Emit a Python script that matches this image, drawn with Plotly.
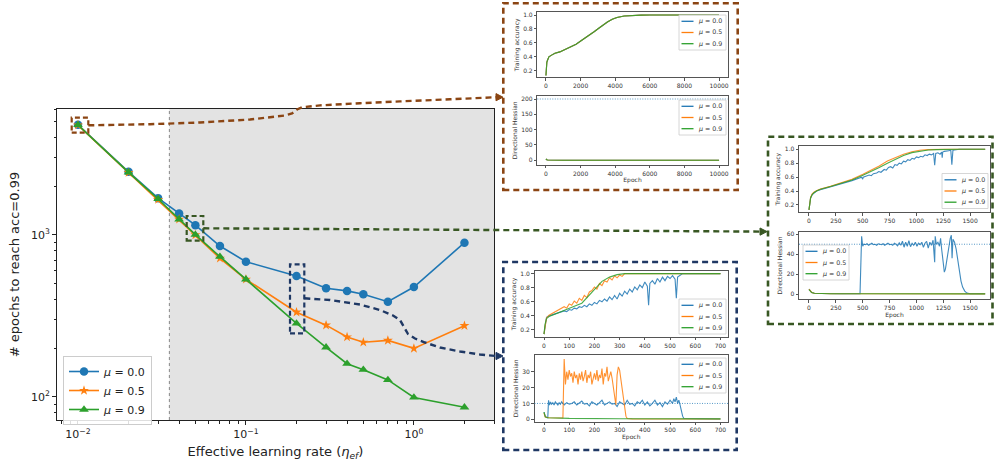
import plotly.graph_objects as go

W, H = 994, 465

# ---------------- main panel data ----------------
lr = [0.01, 0.02, 0.03, 0.04, 0.05, 0.07, 0.1, 0.2, 0.3, 0.4, 0.5, 0.7, 1.0, 2.0]
epochs_mu00 = [4800, 2460, 1690, 1360, 1150, 855, 684, 557, 468, 451, 430, 387, 477, 896]
epochs_mu05 = [4780, 2430, 1655, 1250, 1000, 717, 532, 333, 277, 234, 217, 223, 199, 275]
epochs_mu09 = [4790, 2440, 1670, 1250, 1005, 734, 532, 284, 202, 160, 147, 127, 99, 86]
stable_lr = 0.035
mu_labels = ["<i>μ</i> = 0.0", "<i>μ</i> = 0.5", "<i>μ</i> = 0.9"]
x_tickvals = [0.01, 0.1, 1.0]
x_ticktext = ["10<sup>−2</sup>", "10<sup>−1</sup>", "10<sup>0</sup>"]
y_tickvals = [100, 1000]
y_ticktext = ["10<sup>2</sup>", "10<sup>3</sup>"]

# ---------------- inset A (eta = 0.01) ----------------
a_ep = [0, 20, 50, 90, 170, 300, 520, 800, 1040, 1400, 1740, 2090, 2400, 2780, 3050, 3300,
        3550, 3830, 4100, 4520, 5000, 5500, 6000, 8000, 10000]
a_acc = [0.13, 0.26, 0.32, 0.35, 0.40, 0.42, 0.45, 0.47, 0.50, 0.54, 0.58, 0.64, 0.69, 0.76, 0.81, 0.86,
         0.90, 0.94, 0.965, 0.985, 0.995, 0.998, 1.0, 1.0, 1.0]
a_hess_ep = [0, 20, 50, 100, 200, 500, 1000, 3000, 6000, 10000]
a_hess = [5.0, 3.0, 1.6, 1.0, 0.7, 0.5, 0.4, 0.3, 0.2, 0.2]
a_thr = 200

# ---------------- inset B (eta = 0.05) ----------------
b_ep_s = [0, 5, 15, 30, 46, 70, 106, 200, 289, 400, 502, 580, 654, 730, 806, 880, 958, 1030, 1110,
          1190, 1262, 1400, 1640]
b_acc_mu09 = [0.13, 0.22, 0.30, 0.35, 0.377, 0.40, 0.425, 0.465, 0.507, 0.56, 0.627, 0.68, 0.737, 0.80,
              0.856, 0.91, 0.952, 0.975, 0.99, 0.995, 1.0, 1.0, 1.0]
b_acc_mu05 = [0.13, 0.23, 0.31, 0.36, 0.385, 0.405, 0.43, 0.47, 0.515, 0.57, 0.64, 0.70, 0.76, 0.83,
              0.885, 0.93, 0.965, 0.985, 0.995, 1.0, 1.0, 1.0, 1.0]
b_ep_mu00 = [0, 5, 15, 30, 46, 70, 106, 200, 289, 400, 490, 500, 505, 530, 560, 580, 600, 630, 650, 670,
             700, 720, 740, 760, 780, 800, 820, 840, 860, 880, 900, 920, 940, 960, 980, 1000, 1020, 1040,
             1060, 1080, 1100, 1120, 1140, 1160, 1170, 1180, 1200, 1220, 1235, 1240, 1245, 1260, 1280,
             1300, 1320, 1330, 1340, 1360, 1400, 1640]
b_acc_mu00 = [0.13, 0.22, 0.30, 0.35, 0.375, 0.40, 0.42, 0.46, 0.50, 0.55, 0.60, 0.57, 0.60, 0.61, 0.63,
              0.62, 0.65, 0.66, 0.68, 0.67, 0.71, 0.70, 0.74, 0.75, 0.73, 0.78, 0.77, 0.80, 0.79, 0.83,
              0.82, 0.85, 0.84, 0.87, 0.86, 0.89, 0.88, 0.90, 0.89, 0.92, 0.91, 0.93, 0.92, 0.94, 0.77,
              0.94, 0.95, 0.93, 0.96, 0.88, 0.96, 0.97, 0.98, 0.98, 0.985, 0.78, 0.985, 0.99, 1.0, 1.0]
b_hess_ep_s = [0, 10, 25, 50, 100, 200, 500, 1000, 1640]
b_hess_mu05 = [5.0, 3.2, 1.6, 0.8, 0.5, 0.3, 0.2, 0.1, 0.1]
b_hess_mu09 = [4.5, 3.0, 1.5, 0.8, 0.5, 0.3, 0.2, 0.1, 0.1]
b_hess_ep_mu00 = [0, 10, 25, 50, 100, 300, 475, 490, 500, 510, 525, 540, 555, 570, 585, 600, 615, 630,
                  645, 660, 675, 690, 705, 720, 735, 750, 765, 780, 795, 810, 825, 840, 855, 870, 885,
                  900, 915, 930, 945, 960, 975, 990, 1005, 1020, 1035, 1050, 1065, 1080, 1095, 1110,
                  1125, 1140, 1155, 1170, 1175, 1185, 1200, 1215, 1225, 1235, 1250, 1260, 1270, 1285,
                  1300, 1315, 1325, 1332, 1340, 1355, 1370, 1385, 1400, 1415, 1430, 1450, 1470, 1500, 1640]
b_hess_mu00 = [5, 3, 1.5, 0.8, 0.5, 0.3, 0.3, 58, 48, 50, 49.5, 50.5, 49, 50, 51, 49.5, 50, 49, 50.5,
               50, 49.5, 50.5, 49, 50, 51, 49.5, 50, 49, 51, 50, 48.5, 51.5, 49, 53, 47, 52, 48, 53.5,
               47.5, 51, 49, 52, 48, 51, 49.5, 52, 47, 51, 53, 46, 52, 49, 54, 32, 58, 50, 52, 48, 56,
               45, 30, 22, 25, 35, 48, 56, 59, 36, 55, 52, 45, 35, 22, 13, 7, 3, 1, 0.3, 0.2]
b_thr = 50

# ---------------- inset C (eta = 0.2) ----------------
c_ep_mu09 = [0, 4, 10, 20, 40, 70, 100, 130, 150, 170, 190, 210, 230, 260, 290, 320, 700]
c_acc_mu09 = [0.14, 0.28, 0.36, 0.39, 0.42, 0.46, 0.50, 0.55, 0.58, 0.66, 0.74, 0.82, 0.89, 0.95,
              0.985, 1.0, 1.0]
c_ep_mu05 = [0, 5, 10, 20, 30, 40, 50, 60, 70, 80, 90, 100, 110, 120, 130, 140, 150, 160, 170, 180,
             190, 200, 210, 220, 230, 240, 250, 260, 270, 280, 290, 300, 310, 320, 330, 700]
c_acc_mu05 = [0.14, 0.30, 0.37, 0.41, 0.43, 0.44, 0.46, 0.48, 0.50, 0.53, 0.51, 0.57, 0.55, 0.61, 0.58,
              0.65, 0.62, 0.69, 0.66, 0.74, 0.76, 0.81, 0.78, 0.86, 0.83, 0.90, 0.88, 0.94, 0.91, 0.97,
              0.94, 0.98, 0.96, 1.0, 1.0, 1.0]
c_ep_mu00 = [0, 5, 10, 20, 30, 40, 50, 60, 70, 80, 90, 100, 110, 120, 130, 140, 150, 160, 170, 180,
             190, 200, 210, 220, 230, 240, 250, 260, 270, 280, 290, 300, 310, 320, 330, 340, 350, 360,
             370, 380, 390, 400, 410, 415, 420, 430, 440, 450, 460, 470, 480, 490, 500, 510, 520, 525,
             530, 540, 550, 700]
c_acc_mu00 = [0.14, 0.30, 0.38, 0.40, 0.41, 0.42, 0.43, 0.44, 0.45, 0.47, 0.46, 0.49, 0.48, 0.51, 0.50,
              0.53, 0.52, 0.55, 0.53, 0.57, 0.55, 0.59, 0.57, 0.62, 0.60, 0.64, 0.61, 0.67, 0.63, 0.69,
              0.64, 0.72, 0.68, 0.75, 0.71, 0.78, 0.74, 0.81, 0.77, 0.84, 0.80, 0.88, 0.82, 0.55, 0.86,
              0.90, 0.85, 0.93, 0.88, 0.95, 0.90, 0.96, 0.93, 0.97, 0.92, 0.65, 0.95, 0.98, 1.0, 1.0]
c_hess_ep_mu09 = [0, 5, 15, 50, 100, 300, 700]
c_hess_mu09 = [4.5, 1.5, 1.0, 0.8, 0.6, 0.4, 0.3]
c_hess_ep_mu05 = [0, 5, 20, 50, 75, 80, 85, 90, 95, 100, 105, 110, 115, 120, 125, 130, 135, 140, 145,
                  150, 155, 160, 165, 170, 175, 180, 185, 190, 195, 200, 205, 210, 215, 220, 225, 230,
                  235, 240, 245, 250, 255, 260, 265, 270, 275, 280, 285, 290, 295, 300, 305, 310, 315,
                  320, 325, 330, 350, 700]
c_hess_mu05 = [4, 1.5, 1.0, 0.9, 0.8, 38, 22, 30, 25, 31, 27, 29, 23, 30, 26, 28, 22, 29, 25, 30, 24,
               27, 31, 23, 28, 26, 30, 22, 27, 29, 25, 31, 24, 28, 26, 32, 22, 29, 27, 33, 24, 28, 30,
               26, 21, 15, 9, 28, 33, 31, 25, 18, 12, 6, 2, 0.5, 0.3, 0.2]
c_hess_ep_mu00 = [0, 5, 10, 15, 18, 22, 26, 30, 35, 40, 45, 50, 55, 60, 65, 70, 75, 80, 90, 100, 110,
                  120, 130, 140, 150, 160, 170, 180, 190, 200, 210, 220, 230, 240, 250, 260, 270, 280,
                  290, 300, 310, 320, 330, 340, 350, 360, 370, 380, 390, 400, 410, 420, 430, 440, 450,
                  460, 470, 480, 490, 500, 510, 515, 520, 525, 530, 535, 540, 545, 550, 555, 600, 700]
c_hess_mu00 = [4.5, 2, 1.2, 1, 12, 9, 11, 9.5, 10.5, 9, 11, 10, 9, 10.5, 9.5, 11, 10, 9, 10.5, 9.5, 10,
               11, 9, 10, 11.5, 9.5, 10, 8.5, 11, 10, 9, 10.5, 12, 9, 10, 11, 9.5, 10, 8, 11, 10, 9, 12,
               9.5, 10, 8.5, 11, 10, 12, 9, 11, 8.5, 10, 12, 9, 10.5, 8, 11, 9.5, 12, 10, 13, 11, 14,
               10, 12, 9, 5, 2, 0.5, 0.3, 0.2]
c_thr = 10

# ---------------- styling constants ----------------
C_BLUE, C_ORANGE, C_GREEN = "#1f77b4", "#ff7f0e", "#2ca02c"
BROWN, DGREEN, NAVY = "#8B4513", "#385723", "#1F3864"
FONT = "DejaVu Sans"


def px(x):
    return x / W


def py(y):
    return 1 - y / H


fig = go.Figure()

# ---------------- main traces ----------------
for ys, col, sym, size, lab in [(epochs_mu00, C_BLUE, "circle", 8.5, mu_labels[0]),
                                (epochs_mu05, C_ORANGE, "star", 7.5, mu_labels[1]),
                                (epochs_mu09, C_GREEN, "triangle-up", 8.5, mu_labels[2])]:
    fig.add_trace(go.Scatter(x=lr, y=ys, mode="lines+markers", name=lab,
                             line=dict(color=col, width=1.6),
                             marker=dict(symbol=sym, size=size, color=col, line=dict(width=0)),
                             xaxis="x", yaxis="y", legend="legend"))


def add_lines(xs_list, ys_list, xa, ya, width=1.1):
    for xs, ys, col in zip(xs_list, ys_list, [C_BLUE, C_ORANGE, C_GREEN]):
        fig.add_trace(go.Scatter(x=xs, y=ys, mode="lines", line=dict(color=col, width=width),
                                 opacity=0.85, showlegend=False, xaxis=xa, yaxis=ya, hoverinfo="skip"))


add_lines([a_ep, a_ep, a_ep], [a_acc, a_acc, a_acc], "x2", "y2")
add_lines([a_hess_ep] * 3, [a_hess, a_hess, a_hess], "x3", "y3")
add_lines([b_ep_mu00, b_ep_s, b_ep_s], [b_acc_mu00, b_acc_mu05, b_acc_mu09], "x4", "y4")
add_lines([b_hess_ep_mu00, b_hess_ep_s, b_hess_ep_s], [b_hess_mu00, b_hess_mu05, b_hess_mu09], "x5", "y5")
add_lines([c_ep_mu00, c_ep_mu05, c_ep_mu09], [c_acc_mu00, c_acc_mu05, c_acc_mu09], "x6", "y6")
add_lines([c_hess_ep_mu00, c_hess_ep_mu05, c_hess_ep_mu09], [c_hess_mu00, c_hess_mu05, c_hess_mu09], "x7", "y7")

# ---------------- axes ----------------
main_common = dict(showline=True, mirror=True, linecolor="#222", linewidth=1, ticks="outside",
                   ticklen=4, tickwidth=0.9, tickcolor="#222", showgrid=False, zeroline=False,
                   automargin=False, tickfont=dict(size=11, color="#222"), type="log")
layout = dict(
    width=W, height=H, margin=dict(l=0, r=0, t=0, b=0),
    paper_bgcolor="white", plot_bgcolor="white",
    font=dict(family=FONT, color="#222"),
    xaxis=dict(domain=[px(57), px(494)], range=[-2.125, 0.477], anchor="y",
               tickmode="array", tickvals=x_tickvals, ticktext=x_ticktext,
               minor=dict(ticks="outside", ticklen=2.5, tickwidth=0.7, tickcolor="#222",
                          tickvals=[0.008, 0.009, 0.02, 0.03, 0.04, 0.05, 0.06, 0.07, 0.08, 0.09,
                                    0.2, 0.3, 0.4, 0.5, 0.6, 0.7, 0.8, 0.9, 2, 3]),
               title=dict(text="Effective learning rate (<i>η<sub>ef</sub></i>)",
                          font=dict(size=13, color="#222"), standoff=6),
               **main_common),
    yaxis=dict(domain=[py(420), py(109)], range=[1.856, 3.779], anchor="x",
               tickmode="array", tickvals=y_tickvals, ticktext=y_ticktext,
               minor=dict(ticks="outside", ticklen=2.5, tickwidth=0.7, tickcolor="#222",
                          tickvals=[80, 90, 200, 300, 400, 500, 600, 700, 800, 900,
                                    2000, 3000, 4000, 5000, 6000]),
               title=dict(text="# epochs to reach acc=0.99", font=dict(size=13, color="#222"), standoff=8),
               **main_common),
    legend=dict(x=px(63), y=py(356), xanchor="left", yanchor="top",
                bgcolor="rgba(255,255,255,0.85)", bordercolor="#cccccc", borderwidth=1,
                font=dict(size=11, color="#222"), itemwidth=30, tracegroupgap=0),
)


def inset_axes(n, xdom, ydom, xrng, yrng, xticks, yticks, ytitle, xtitle=None, yfmt=None):
    common = dict(showline=True, mirror=True, linecolor="#555", linewidth=0.8, ticks="outside",
                  ticklen=2.5, tickwidth=0.7, tickcolor="#555", showgrid=False, zeroline=False,
                  automargin=False, tickfont=dict(size=6, color="#333"))
    xa = dict(domain=[px(xdom[0]), px(xdom[1])], range=xrng, anchor="y%d" % n,
              tickmode="array", tickvals=xticks, ticktext=[str(v) for v in xticks], **common)
    if xtitle:
        xa["title"] = dict(text=xtitle, font=dict(size=6, color="#333"), standoff=2)
    ya = dict(domain=[py(ydom[1]), py(ydom[0])], range=yrng, anchor="x%d" % n,
              tickmode="array", tickvals=yticks,
              title=dict(text=ytitle, font=dict(size=6, color="#333"), standoff=3), **common)
    if yfmt:
        ya["tickformat"] = yfmt
    layout["xaxis%d" % n] = xa
    layout["yaxis%d" % n] = ya


acc_ticks = [0.2, 0.4, 0.6, 0.8, 1.0]
inset_axes(2, (537.3, 727.7), (12.3, 77.3), [-500, 10500], [0.105, 1.039],
           [0, 2000, 4000, 6000, 8000, 10000], acc_ticks, "Training accuracy", yfmt=".1f")
inset_axes(3, (537.3, 727.7), (95.7, 165), [-500, 10500], [-15.3, 210.8],
           [0, 2000, 4000, 6000, 8000, 10000], [0, 50, 100, 150, 200], "Directional Hessian", "Epoch")
inset_axes(4, (799, 990), (146, 212.3), [-93, 1685], [0.095, 1.047],
           [0, 250, 500, 750, 1000, 1250, 1500], acc_ticks, "Training accuracy", yfmt=".1f")
inset_axes(5, (799, 990), (231.7, 299.3), [-93, 1685], [-5.3, 62.6],
           [0, 250, 500, 750, 1000, 1250, 1500], [0, 20, 40, 60], "Directional Hessian", "Epoch")
inset_axes(6, (534.5, 728), (271, 337), [-37.7, 730], [0.10, 1.037],
           [0, 100, 200, 300, 400, 500, 600, 700], acc_ticks, "Training accuracy", yfmt=".1f")
inset_axes(7, (534.5, 728), (355, 421.7), [-37.7, 730], [-1.5, 40.5],
           [0, 100, 200, 300, 400, 500, 600, 700], [0, 10, 20, 30], "Directional Hessian", "Epoch")

# ---------------- shapes & annotations ----------------
shapes = []
annotations = []

# stable region shading + boundary
shapes.append(dict(type="rect", xref="x", yref="y domain", x0=stable_lr, x1=10, y0=0, y1=1,
                   fillcolor="#e3e3e3", line=dict(width=0), layer="below"))
shapes.append(dict(type="line", xref="x", yref="y domain", x0=stable_lr, x1=stable_lr, y0=0, y1=1,
                   line=dict(color="#888", width=1, dash="dot"), layer="below"))

# thresholds in Hessian insets
for n, thr in [(3, a_thr), (5, b_thr), (7, c_thr)]:
    shapes.append(dict(type="line", xref="x%d domain" % n, yref="y%d" % n, x0=0, x1=1, y0=thr, y1=thr,
                       line=dict(color="rgba(31,119,180,0.75)", width=1, dash="1px,1.5px")))


def pth(points, close=False):
    s = "M " + " L ".join("%.5f,%.5f" % (px(x), py(y)) for x, y in points)
    return s + (" Z" if close else "")


def dashed_rect(x0, y0, x1, y1, color, width=2.4, dash="6px,4px"):
    shapes.append(dict(type="rect", xref="paper", yref="paper", x0=px(x0), x1=px(x1), y0=py(y1), y1=py(y0),
                       line=dict(color=color, width=width, dash=dash), fillcolor="rgba(0,0,0,0)"))


def connector(points, color):
    shapes.append(dict(type="path", xref="paper", yref="paper", path=pth(points),
                       line=dict(color=color, width=2.4, dash="6px,4px")))
    tx, ty = points[-1][0] + 6.5, points[-1][1]
    shapes.append(dict(type="path", xref="paper", yref="paper",
                       path=pth([(tx, ty), (tx - 7, ty - 3.6), (tx - 7, ty + 3.6)], close=True),
                       fillcolor=color, line=dict(color=color, width=1)))


# inset frames
dashed_rect(503.3, 3.3, 737.7, 190, BROWN, width=2.6)
dashed_rect(768, 136.7, 992.5, 324, DGREEN, width=2.6)
dashed_rect(503.3, 262, 736.7, 450, NAVY, width=2.6)

# highlight boxes on main panel
dashed_rect(71.7, 117.7, 88.3, 132.7, BROWN, width=2.2, dash="5px,3px")
dashed_rect(186.7, 216, 203.3, 240.7, DGREEN, width=2.2, dash="5px,3px")
dashed_rect(290, 264.3, 304.3, 333.3, NAVY, width=2.2, dash="5px,3px")

# connectors
connector([(88.3, 125.3), (150, 124.2), (200, 122.5), (250, 119.5), (285, 115.5), (292, 113.5),
           (297, 109.5), (302, 107.3), (320, 105.4), (360, 103.2), (400, 101.4), (450, 99.3),
           (496.5, 97.2)], BROWN)
connector([(203.3, 228.3), (760.5, 231.6)], DGREEN)
connector([(304.3, 298.3), (330, 300), (360, 304.5), (380, 310), (393, 315.5), (400, 320),
           (404, 327), (408, 334), (415, 338.5), (425, 342.5), (440, 347.5), (460, 351.5),
           (480, 354.5), (496.5, 356)], NAVY)


def inset_legend(left, top, right):
    shapes.append(dict(type="rect", xref="paper", yref="paper", x0=px(left), x1=px(right),
                       y0=py(top + 35), y1=py(top), line=dict(color="#cccccc", width=0.8),
                       fillcolor="rgba(255,255,255,0.85)"))
    for i, (col, lab) in enumerate(zip([C_BLUE, C_ORANGE, C_GREEN], mu_labels)):
        yc = top + 6.3 + 11.2 * i
        shapes.append(dict(type="line", xref="paper", yref="paper", x0=px(left + 2.5), x1=px(left + 14.5),
                           y0=py(yc), y1=py(yc), line=dict(color=col, width=1.3)))
        annotations.append(dict(xref="paper", yref="paper", x=px(left + 18), y=py(yc), text=lab,
                                showarrow=False, xanchor="left", yanchor="middle",
                                font=dict(size=6.3, color="#333"), borderpad=0))


inset_legend(679, 15, 726)
inset_legend(679, 100, 726)
inset_legend(942, 173.5, 988)
inset_legend(803, 245, 849)
inset_legend(679, 299, 726)
inset_legend(679, 358, 726)

layout["shapes"] = shapes
layout["annotations"] = annotations
fig.update_layout(**layout)
fig.write_html(
    "out.html",
    config={"displayModeBar": False},
    post_script="document.documentElement.style.margin='0';document.body.style.margin='0';"
                "document.body.style.padding='0';document.body.style.overflow='hidden';",
)
